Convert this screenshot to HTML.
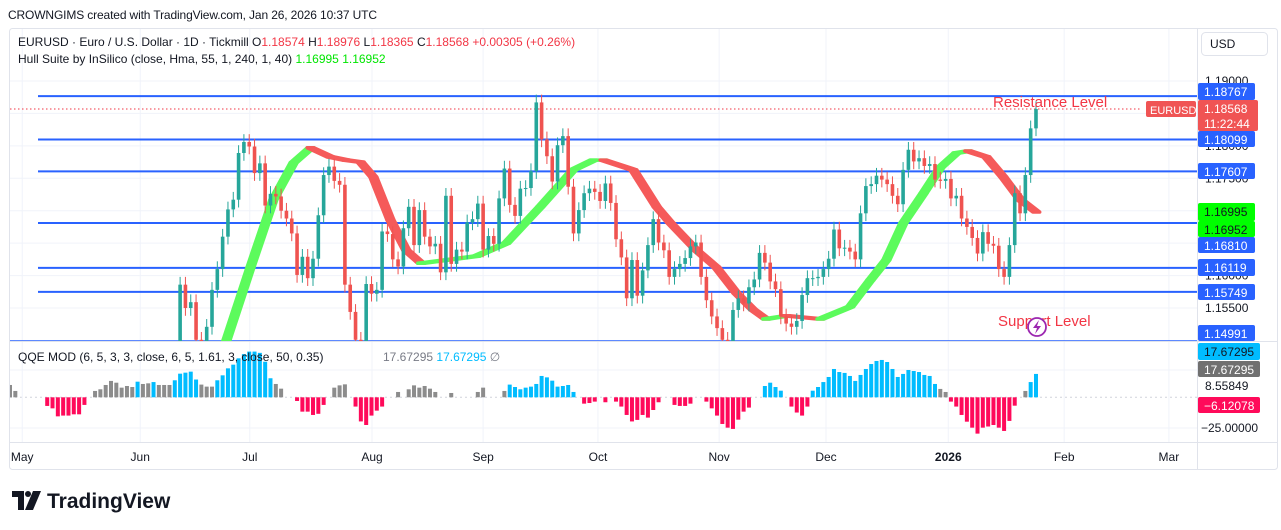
<!DOCTYPE html>
<html><head><meta charset="utf-8">
<style>
html,body{margin:0;padding:0;background:#fff;}
svg{display:block;font-family:"Liberation Sans","DejaVu Sans",sans-serif;}
</style></head>
<body>
<svg id="chart" width="1281" height="530" viewBox="0 0 1281 530" xmlns="http://www.w3.org/2000/svg">
  <text x="8" y="19" font-size="12" fill="#131722" textLength="369">CROWNGIMS created with TradingView.com, Jan 26, 2026 10:37 UTC</text>
  <rect x="9.5" y="28.5" width="1268" height="441" rx="3" fill="#fff" stroke="#e0e3eb"/>
  <g id="grid"></g>
  <defs>
    <clipPath id="pclip"><rect x="10" y="29" width="1187" height="312"/></clipPath>
    <clipPath id="qclip"><rect x="10" y="342" width="1187" height="100"/></clipPath>
  </defs>
  <g id="levels"></g>
  <line x1="10" y1="109" x2="1142" y2="109" stroke="#f23645" stroke-width="1" stroke-dasharray="1.5,2.5"/>
  <g id="hull" clip-path="url(#pclip)"></g>
  <g id="candles" clip-path="url(#pclip)"></g>
  <g id="qqe" clip-path="url(#qclip)"></g>
  <line x1="10" y1="341.5" x2="1277" y2="341.5" stroke="#e0e3eb"/>
  <line x1="10" y1="442.5" x2="1277" y2="442.5" stroke="#e0e3eb"/>
  <line x1="1197.5" y1="29" x2="1197.5" y2="469" stroke="#e0e3eb"/>
  <g id="xaxis"></g>
  <g id="yaxis"></g>

  <text x="18" y="46" font-size="12" fill="#131722">EURUSD · Euro / U.S. Dollar · 1D · Tickmill <tspan fill="#131722">O</tspan><tspan fill="#f23645">1.18574</tspan> <tspan>H</tspan><tspan fill="#f23645">1.18976</tspan> <tspan>L</tspan><tspan fill="#f23645">1.18365</tspan> <tspan>C</tspan><tspan fill="#f23645">1.18568</tspan> <tspan fill="#f23645">+0.00305 (+0.26%)</tspan></text>
  <text x="18" y="63" font-size="12" fill="#131722">Hull Suite by InSilico (close, Hma, 55, 1, 240, 1, 40) <tspan fill="#00e600">1.16995</tspan> <tspan fill="#00e600">1.16952</tspan></text>
  <text x="18" y="361" font-size="12" fill="#131722">QQE MOD (6, 5, 3, 3, close, 6, 5, 1.61, 3, close, 50, 0.35)</text>
  <text x="383" y="361" font-size="12" fill="#787b86">17.67295 <tspan fill="#00bcff">17.67295</tspan> <tspan fill="#787b86">∅</tspan></text>

  <text x="993" y="107" font-size="15" fill="#f23645">Resistance Level</text>
  <text x="998" y="326" font-size="15" fill="#f23645">Support Level</text>
  <g>
    <circle cx="1037" cy="327" r="9" fill="#fff" stroke="#9c27b0" stroke-width="1.8"/>
    <path d="M1039 320 L1033 328 L1037 328 L1035 334 L1041 326 L1037 326 Z" fill="#9c27b0"/>
  </g>

  <g>
    <rect x="1201.5" y="32.5" width="66" height="23" rx="4" fill="#fff" stroke="#e0e3eb"/>
    <text x="1210" y="48" font-size="12" fill="#131722">USD</text>
  </g>

  <g>
    <path d="M12 491 H24 V510 H18 V497 H12 Z" fill="#131722"/>
    <circle cx="28" cy="494" r="3" fill="#131722"/>
    <path d="M33 491 H41 L33 510 H25 Z" fill="#131722"/>
    <text x="47" y="508" font-size="21" font-weight="bold" fill="#131722">TradingView</text>
  </g>
</svg>
<script>
// ---------- data ----------
const firstBarIndex = 32;
const prevClose = 1.1470;
const closes = [
1.1586,1.1550,1.1559,1.1501,1.1495,1.1521,1.1578,1.1610,1.1660,1.1702,
1.1717,1.1789,1.1806,1.1799,1.1758,1.1773,1.1708,1.1726,1.1722,1.1700,
1.1688,1.1665,1.1601,1.1629,1.1596,1.1626,1.1693,1.1755,1.1768,1.1746,
1.1740,1.1586,1.1544,1.1501,1.1480,1.1587,1.1572,1.1578,1.1668,1.1664,
1.1625,1.1614,1.1673,1.1706,1.1647,1.1701,1.1660,1.1645,1.1649,1.1605,
1.1723,1.1618,1.1640,1.1637,1.1682,1.1687,1.1711,1.1640,1.1661,1.1649,
1.1719,1.1765,1.1709,1.1692,1.1734,1.1735,1.1761,1.1867,1.1810,1.1784,
1.1745,1.1801,1.1815,1.1737,1.1665,1.1701,1.1727,1.1734,1.1729,1.1715,
1.1742,1.1712,
1.1656,1.1628,1.1565,1.1624,1.1569,1.1608,1.1647,1.1687,1.1651,1.1639,
1.1598,1.1610,1.1618,1.1627,1.1645,1.1651,1.1598,1.1562,1.1537,1.1519,
1.1501,1.1490,1.1547,1.1565,1.1557,1.1582,1.1594,1.1635,1.1620,1.1591,
1.1579,1.1537,1.1526,1.1521,1.1530,1.1570,1.1596,1.1596,1.1598,1.1610,
1.1626,1.1671,1.1642,1.1643,1.1637,1.1625,1.1696,1.1738,1.1741,1.1754,
1.1748,1.1741,1.1723,1.1710,1.1763,1.1794,1.1776,1.1781,1.1769,1.1772,
1.1748,1.1746,1.1749,1.1719,1.1723,1.1688,1.1675,1.1658,1.1634,1.1667,
1.1649,1.1646,1.1610,1.1598,1.1647,1.1727,1.1696,1.1755,1.1827,1.18568];
const wick = 0.0012;

const hullIdx = [36,40.1,44.6,48.9,52.7,55.9,59.6,62.6,65.3,67.7,70.9,73.9,76.7,83.3,87.1,92.7,99.1,105.3,109.1,111,116.6,121,123.6,128.5,132.2,136,139.2,141.6,145.4,151.8,157.4,161.2,164.2,167.4,171.2,174.4,177.4,179.6,183,186.2,189.4,192.4];
const hullVal = [1.1400,1.1501,1.1613,1.1717,1.1774,1.1797,1.1783,1.1778,1.1775,1.1752,1.1686,1.1639,1.1619,1.1626,1.1630,1.1650,1.1706,1.1763,1.1778,1.1778,1.1763,1.1706,1.1681,1.1639,1.1613,1.1573,1.1547,1.1533,1.1538,1.1533,1.1552,1.1593,1.1624,1.1681,1.1727,1.1767,1.1789,1.1792,1.1783,1.1752,1.1717,1.1698];

const qqeVals = [
9.7,5,0,0,0,0,0,-6.8,-8.7,-15,
-14.4,-14.4,-13.4,-13.4,-6,0,5,6.3,9.7,12.9,
11.5,7.6,8.9,8.1,12.3,10.5,11,12,9.7,9.7,
9.7,13.4,18.6,19.4,20.2,14,10,8.4,8.4,13.4,
17.3,22.8,25.7,30.7,34,36,36,35,28,15,
10.5,6.8,0,0,-2.9,-11.3,-11.3,-13.9,-13,-6,
0,7.6,9.4,10.2,0,-7.3,-19,-21.8,-14.4,-10.5,
-7.3,0,0,4.2,0,6.3,9.4,7.6,8.9,6.8,
4.2,0,0,3.4,0,0,0,0,4.2,7.6,
0,0,0,5,10,8.1,6.3,7.6,8.4,10.5,
16.8,15.7,13.1,8.4,8.9,9.7,4.2,0,-5,-4.5,
-3.4,0,-3.9,0,-3.4,-7.3,-13.9,-19,-17.8,-13.9,
-16,-10,-3.9,0,0,-6,-6.8,-6.8,-5,0,
0,-3.4,-8.7,-14.4,-21,-23.9,-24.9,-17.6,-11.3,-8.1,
0,0,8.9,11.5,8.1,5.2,0,-7.3,-12,-14.4,
-7.3,5.2,8.1,12,16,22.3,19.9,19.2,16.8,12.9,
17.6,22.3,26.2,28.6,29.4,27.8,22.3,16,18.4,21.5,
20.7,19.9,17.6,16.8,10.5,6.6,4.2,-3.4,-7.3,-13.9,
-19.2,-23.9,-28.6,-23.9,-23,-21.8,-23.9,-26.5,-18.6,-6.6,
0,5,12,18.4];
const qqeCols = ("gg00000rrr"+"rrrrr0gggg"+"ggggbggbgg"+"gbbbbbgggb"+"bbbbbbbbbb"+"gg00rrrrrr"+"0ggg0rrrrr"+"r00g0ggggg"+"g00g0000gg"+"000gbbbbbb"+"bbbbbbb0rr"+"r0r0rrrrrr"+"rrr00rrrr0"+"0rrrrrrrrr"+"00bbbb0rrr"+"rbbbbbbbbb"+"bbbbbbbbbb"+"bbbbbggrrr"+"rrrrrrrrrr"+"0gbb").split("");

const priceTicks = [1.19,1.185,1.18,1.175,1.17,1.165,1.16,1.155];
const levelPrices = [1.18767,1.18099,1.17607,1.1681,1.16119,1.15749,1.14991];
const monthLabels = ["May","Jun","Jul","Aug","Sep","Oct","Nov","Dec","2026","Feb","Mar"];
const monthBars = [2.3,24.5,45.1,68.1,89,110.6,133.4,153.5,176.5,198.3,218];

// ---------- scales ----------
const NS="http://www.w3.org/2000/svg";
function xOf(i){return 10+i*5.316;}
function yP(p){return 81+(1.19-p)*6486;}
function yQ(v){return 397.3-v*1.27;}
function mk(tag,attrs,parent){const e=document.createElementNS(NS,tag);for(const k in attrs)e.setAttribute(k,attrs[k]);parent.appendChild(e);return e;}

const grid=document.getElementById('grid');
priceTicks.forEach(p=>{
  const l=mk('line',{x1:10,x2:1197,y1:yP(p),y2:yP(p),stroke:'#f0f3fa'},grid);
  
  
});
[370,428].forEach(y=>{
  const l=mk('line',{x1:10,x2:1197,y1:y,y2:y,stroke:'#f0f3fa'},grid);
  
  
});
const zl=mk('line',{x1:10,x2:1197,y1:397.3,y2:397.3,stroke:'#d1d4dc','stroke-dasharray':'2,3'},grid);



const xaxis=document.getElementById('xaxis');
monthLabels.forEach((m,k)=>{
  const x=xOf(monthBars[k]);
  const l=mk('line',{x1:x,x2:x,y1:29,y2:442,stroke:'#f0f3fa'},grid);
  
  
  const t=mk('text',{x:x,y:461,'font-size':12,fill:'#131722','text-anchor':'middle','font-weight':m==='2026'?'bold':'normal'},xaxis);
  t.textContent=m;
  
  
});

const lv=document.getElementById('levels');
levelPrices.forEach((p,k)=>{
  const l=mk('line',{x1:k===6?10:38,x2:1197,y1:yP(p),y2:yP(p),stroke:'#2962ff','stroke-width':k===6?1.5:2},lv);
  
  
});

// hull band
const hg=document.getElementById('hull');
const lagPx=1.3*5.316;
for(let k=0;k<hullIdx.length-1;k++){
  const x1=xOf(hullIdx[k]),y1=yP(hullVal[k]),x2=xOf(hullIdx[k+1]),y2=yP(hullVal[k+1]);
  const col=hullVal[k+1]>=hullVal[k]?'#5cfb5c':'#f55a5a';
  const pg=mk('polygon',{points:`${x1},${y1} ${x2},${y2} ${x2+lagPx},${y2} ${x1+lagPx},${y1}`,fill:col,stroke:col,'stroke-width':3.5,'stroke-linejoin':'round'},hg);
  
  
}

// candles
const cg=document.getElementById('candles');
closes.forEach((c,k)=>{
  const o=k===0?prevClose:closes[k-1];
  const i=firstBarIndex+k;
  const x=xOf(i);
  const up=c>=o;
  const col=up?'#26a69a':'#ef5350';
  const hi=Math.max(o,c)+wick, lo=Math.min(o,c)-wick;
  const w=mk('line',{x1:x,x2:x,y1:yP(hi),y2:yP(lo),stroke:col,'stroke-width':1},cg);
  
  
  const top=yP(Math.max(o,c)),bot=yP(Math.min(o,c));
  const b=mk('rect',{x:x-1.8,y:top,width:3.6,height:Math.max(1,bot-top),fill:col},cg);
  
  
});

// qqe
const qg=document.getElementById('qqe');
const cmap={b:'#00bcff',g:'#8c8c8c',r:'#ff0a5a'};
qqeVals.forEach((v,i)=>{
  if(v===0) return;
  const x=xOf(i);
  const y0=yQ(0),y1=yQ(v);
  const r=mk('rect',{x:x-2,y:Math.min(y0,y1),width:4,height:Math.abs(y1-y0),fill:cmap[qqeCols[i]]||'#8c8c8c'},qg);
  
  
});

// y axis
const ya=document.getElementById('yaxis');
priceTicks.forEach(p=>{
  const t=mk('text',{x:1205,y:yP(p)+4,'font-size':12,fill:'#131722'},ya);
  t.textContent=p.toFixed(5);
  
  
});
[[8.55849,390],[-25,432]].forEach(a=>{
  const t=mk('text',{x:a[0]<0?1201:1205,y:a[1],'font-size':12,fill:'#131722'},ya);
  t.textContent=a[0]<0?'\u22122'+'5.00000':a[0].toFixed(5);
  
  
});
function badge(y,h,fill,txt,tc,name,w,x,fs){
  const g=mk('g',{},ya);
  
  
  mk('rect',{x:x||1198,y:y,width:w||57,height:h,rx:2,fill:fill},g);
  txt.forEach((s,j)=>{const t=mk('text',{x:(x||1198)+(fs?4:6),y:y+13+j*15,'font-size':fs||12,fill:tc},g);t.textContent=s;});
}
badge(83,17,'#2962ff',['1.18767'],'#fff','level-badge');
badge(131,16,'#2962ff',['1.18099'],'#fff','level-badge');
badge(163,16,'#2962ff',['1.17607'],'#fff','level-badge');
badge(203,18,'#00ff00',['1.16995'],'#131722','hull-badge');
badge(221,16,'#00ff00',['1.16952'],'#131722','hull-badge');
badge(237,16,'#2962ff',['1.16810'],'#fff','level-badge');
badge(259,17,'#2962ff',['1.16119'],'#fff','level-badge');
badge(284,16,'#2962ff',['1.15749'],'#fff','level-badge');
badge(325,16,'#2962ff',['1.14991'],'#fff','level-badge');
badge(100,31,'#f05454',['1.18568','11:22:44'],'#fff','last-price-badge',60);
badge(101,16,'#f05454',['EURUSD'],'#fff','symbol-badge',50,1146,11);
badge(343,17,'#00bcff',['17.67295'],'#131722','qqe-badge',62);
badge(361,16,'#707070',['17.67295'],'#fff','qqe-badge',62);
badge(397,16,'#ff0a5a',['\u22126.12078'],'#fff','qqe-badge',62);
</script>
</body></html>
